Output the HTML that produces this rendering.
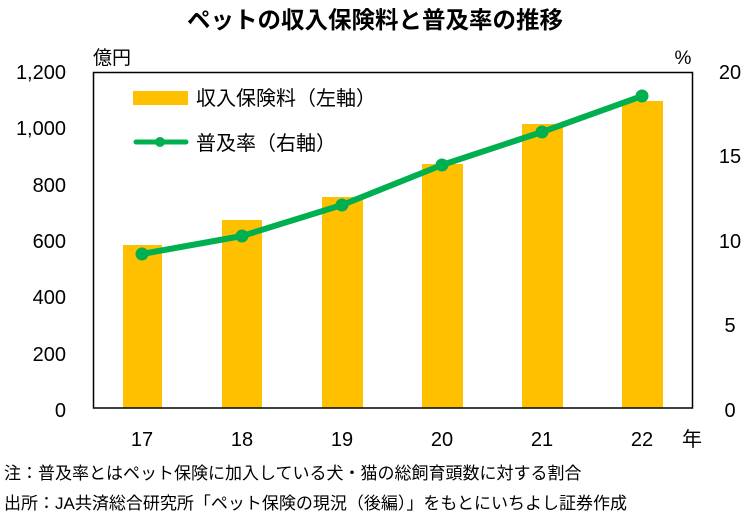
<!DOCTYPE html>
<html><head><meta charset="utf-8"><style>
body{margin:0;background:#fff;}
svg{display:block;font-family:"Liberation Sans","Noto Sans CJK JP",sans-serif;}
</style></head><body>
<svg width="750" height="520" viewBox="0 0 750 520">
<rect width="750" height="520" fill="#fff"/>
<text x="375" y="28" text-anchor="middle" font-size="23.5" font-weight="bold" fill="#000">ペットの収入保険料と普及率の推移</text>
<text x="93" y="64" font-size="19" fill="#000">億円</text>
<text x="683" y="64" font-size="19" fill="#000" text-anchor="middle">%</text>
<g fill="#FFC000">
<rect x="123" y="245" width="39" height="163"/>
<rect x="222" y="220" width="40" height="188"/>
<rect x="322" y="197" width="41" height="211"/>
<rect x="422" y="164" width="41" height="244"/>
<rect x="522" y="124" width="41" height="284"/>
<rect x="622" y="101" width="41" height="307"/>
</g>
<rect x="93.5" y="72.5" width="599" height="335.5" fill="none" stroke="#000" stroke-width="1.5"/>
<polyline points="142,254 242,236 342,205 442,165 542,132 642,96" fill="none" stroke="#00B050" stroke-width="6" stroke-linejoin="round"/>
<g fill="#00B050">
<circle cx="142" cy="254" r="6.5"/><circle cx="242" cy="236" r="6.5"/><circle cx="342" cy="205" r="6.5"/>
<circle cx="442" cy="165" r="6.5"/><circle cx="542" cy="132" r="6.5"/><circle cx="642" cy="96" r="6.5"/>
</g>
<rect x="133" y="91" width="55" height="14" fill="#FFC000"/>
<text x="196" y="105" font-size="20" fill="#000">収入保険料（左軸）</text>
<line x1="136" y1="142" x2="186" y2="142" stroke="#00B050" stroke-width="5" stroke-linecap="round"/>
<circle cx="160" cy="142" r="5" fill="#00B050"/>
<text x="196" y="150" font-size="20" fill="#000">普及率（右軸）</text>
<g font-size="20" fill="#000" text-anchor="end">
<text x="66" y="79">1,200</text><text x="66" y="135">1,000</text><text x="66" y="192">800</text>
<text x="66" y="248">600</text><text x="66" y="304">400</text><text x="66" y="361">200</text><text x="66" y="417">0</text>
</g>
<g font-size="20" fill="#000" text-anchor="middle">
<text x="730" y="79">20</text><text x="730" y="163">15</text><text x="730" y="248">10</text>
<text x="730" y="332">5</text><text x="730" y="417">0</text>
<text x="142" y="446">17</text><text x="242" y="446">18</text><text x="342" y="446">19</text>
<text x="442" y="446">20</text><text x="542" y="446">21</text><text x="642" y="446">22</text>
<text x="692" y="446">年</text>
</g>
<text x="4" y="479" font-size="17" fill="#000">注：普及率とはペット保険に加入している犬・猫の総飼育頭数に対する割合</text>
<text x="4" y="509" font-size="17" fill="#000">出所：JA共済総合研究所「ペット保険の現況（後編）」をもとにいちよし証券作成</text>
</svg>
</body></html>
